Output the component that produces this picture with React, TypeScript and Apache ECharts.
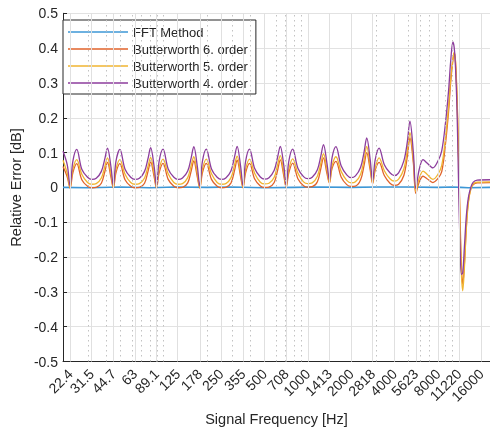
import React, { useEffect, useRef } from "react";
import * as echarts from "echarts";

// x-axis tick values (Hz) and their labels
const tickValues = [22.4, 31.5, 44.7, 63, 89.1, 125, 178, 250, 355, 500, 708, 1000, 1413, 2000, 2818, 4000, 5623, 8000, 11220, 16000];
const tickLabels = ["22.4", "31.5", "44.7", "63", "89.1", "125", "178", "250", "355", "500", "708", "1000", "1413", "2000", "2818", "4000", "5623", "8000", "11220", "16000"];
// minor (dotted) grid positions of the log axis
const minorGridHz = [30, 40, 50, 60, 70, 80, 90, 100, 200, 300, 400, 500, 600, 700, 800, 900, 1000, 2000, 3000, 4000, 5000, 6000, 7000, 8000, 9000, 10000];

const seriesNames = ["FFT Method", "Butterworth 6. order", "Butterworth 5. order", "Butterworth 4. order"];

// FFT method
const fftHz = [20, 30, 50, 80, 120, 200, 300, 500, 800, 1200, 2000, 3000, 5000, 8000, 10000, 11500, 13000, 18400];
const fftErr = [0, -0.001, 0.001, -0.001, 0.001, 0, 0.001, -0.001, 0, 0.001, 0, 0.001, 0.001, 0, 0.001, 0, -0.001, 0];

// shared frequency samples for the Butterworth curves
const bwHz = [
  20, 21.4,
  22.4, 23.4, 24.9, 27.0, 29.6, 31.7, 34.0, 36.9, 39.0, 40.7, 43.0,
  44.7, 46.6, 49.6, 53.9, 59.0, 63.2, 67.8, 73.6, 77.8, 81.1, 85.8,
  89.1, 92.9, 98.9, 107.4, 117.6, 126.0, 135.0, 146.8, 155.1, 161.7, 170.9,
  178, 185.6, 197.5, 214.6, 234.9, 251.7, 269.8, 293.2, 309.9, 323.1, 341.5,
  355, 370.1, 393.9, 428.1, 468.4, 502.0, 538.1, 584.8, 618.1, 644.3, 681.1,
  708, 738.1, 785.6, 853.7, 934.2, 1001, 1073, 1166, 1233, 1285, 1358,
  1413, 1473, 1568, 1704, 1864, 1998, 2142, 2327, 2460, 2565, 2711,
  2818, 2938, 3127, 3398, 3718, 3985, 4271, 4642, 4906, 5115, 5406,
  5623, 5924, 6310, 6724, 7386, 7992, 8507, 9058, 9500, 9805, 10168, 10394, 10612, 10866, 11122, 11390, 11660, 11900, 12224, 12616, 13014, 13532, 14086, 14990, 18400,
];

const bw6Err = [
  0.06, 0.03,
  -0.002, 0.042, 0.068, 0.022, 0.003, -0.001, 0.0, 0.012, 0.045, 0.072, 0.03,
  -0.002, 0.042, 0.068, 0.022, 0.003, -0.001, 0.0, 0.012, 0.046, 0.073, 0.03,
  -0.002, 0.042, 0.069, 0.023, 0.003, -0.001, 0.0, 0.013, 0.047, 0.076, 0.031,
  -0.002, 0.042, 0.069, 0.023, 0.003, -0.001, 0.0, 0.013, 0.048, 0.078, 0.032,
  -0.001, 0.042, 0.069, 0.024, 0.004, 0.0, 0.001, 0.014, 0.05, 0.079, 0.034,
  0.0, 0.042, 0.07, 0.025, 0.005, 0.001, 0.002, 0.016, 0.055, 0.085, 0.04,
  0.012, 0.054, 0.075, 0.03, 0.008, 0.003, 0.004, 0.022, 0.064, 0.1, 0.05,
  0.011, 0.05, 0.072, 0.034, 0.012, 0.006, 0.009, 0.034, 0.088, 0.142, 0.07,
  -0.017, 0.015, 0.032, 0.025, 0.014, 0.025, 0.045, 0.13, 0.22, 0.3, 0.365, 0.388, 0.36, 0.26, 0.1, -0.08, -0.23, -0.278, -0.22, -0.11, -0.04, -0.005, 0.008, 0.013, 0.014,
];

const bw5Err = [
  0.078, 0.04,
  0.0, 0.052, 0.08, 0.038, 0.014, 0.009, 0.011, 0.027, 0.06, 0.085, 0.04,
  0.0, 0.052, 0.08, 0.038, 0.014, 0.009, 0.011, 0.027, 0.061, 0.086, 0.04,
  0.0, 0.052, 0.081, 0.039, 0.014, 0.009, 0.011, 0.028, 0.063, 0.088, 0.041,
  0.0, 0.052, 0.081, 0.039, 0.014, 0.009, 0.011, 0.028, 0.064, 0.09, 0.042,
  0.001, 0.052, 0.081, 0.04, 0.015, 0.01, 0.012, 0.029, 0.066, 0.091, 0.044,
  0.002, 0.052, 0.082, 0.041, 0.016, 0.011, 0.013, 0.032, 0.07, 0.097, 0.05,
  0.015, 0.062, 0.088, 0.046, 0.02, 0.013, 0.016, 0.038, 0.08, 0.118, 0.06,
  0.014, 0.057, 0.085, 0.048, 0.025, 0.018, 0.024, 0.053, 0.106, 0.157, 0.08,
  -0.012, 0.025, 0.047, 0.038, 0.023, 0.037, 0.063, 0.147, 0.235, 0.31, 0.37, 0.387, 0.355, 0.25, 0.09, -0.1, -0.25, -0.297, -0.23, -0.115, -0.045, -0.005, 0.01, 0.015, 0.016,
];

const bw4Err = [
  0.104, 0.065,
  0.004, 0.075, 0.109, 0.052, 0.029, 0.023, 0.026, 0.046, 0.082, 0.113, 0.06,
  0.004, 0.075, 0.109, 0.052, 0.029, 0.023, 0.026, 0.046, 0.083, 0.114, 0.06,
  0.004, 0.075, 0.11, 0.053, 0.029, 0.023, 0.027, 0.047, 0.085, 0.117, 0.062,
  0.004, 0.075, 0.11, 0.053, 0.029, 0.023, 0.027, 0.048, 0.087, 0.118, 0.062,
  0.005, 0.075, 0.11, 0.054, 0.03, 0.024, 0.028, 0.049, 0.088, 0.118, 0.064,
  0.006, 0.075, 0.11, 0.055, 0.031, 0.025, 0.029, 0.051, 0.091, 0.123, 0.07,
  0.02, 0.085, 0.117, 0.062, 0.036, 0.028, 0.033, 0.058, 0.102, 0.142, 0.08,
  0.018, 0.08, 0.113, 0.065, 0.042, 0.034, 0.042, 0.076, 0.13, 0.19, 0.1,
  -0.003, 0.05, 0.08, 0.07, 0.056, 0.075, 0.105, 0.19, 0.28, 0.36, 0.418, 0.4, 0.34, 0.22, 0.02, -0.16, -0.25, -0.245, -0.17, -0.08, -0.03, 0.0, 0.015, 0.021, 0.022,
];

const colors = ["#3d97d6", "#e0622a", "#f0b530", "#8c3d9c"];
const FONT = "'Liberation Sans', Arial, Helvetica, sans-serif";
const TEXT = "#262626";

const pairs = (xs: number[], ys: number[]) => xs.map((x, i) => [x, ys[i]]);

export default function App() {
  const ref = useRef<HTMLDivElement>(null);
  useEffect(() => {
    if (!ref.current) return;
    const chart = echarts.init(ref.current, undefined, { renderer: "svg" });
    const labelFor = (v: number) => {
      let best = 0;
      let bd = Infinity;
      tickValues.forEach((t, i) => {
        const d = Math.abs(Math.log(t) - Math.log(v));
        if (d < bd) { bd = d; best = i; }
      });
      return tickLabels[best];
    };
    const lineSeries = (name: string, data: number[][], color: string, width: number, smooth: number) => ({
      name,
      type: "line",
      data,
      showSymbol: false,
      symbol: "none",
      smooth,
      z: 3,
      lineStyle: { color, width },
      itemStyle: { color },
      emphasis: { disabled: true },
    });
    chart.setOption({
      animation: false,
      textStyle: { fontFamily: FONT },
      grid: { left: 56, right: 0, top: 13.3, bottom: 68.3, containLabel: false },
      legend: {
        orient: "vertical",
        left: 63,
        top: 20,
        data: seriesNames,
        icon: "rect",
        itemWidth: 60,
        itemHeight: 1.5,
        itemGap: 3,
        padding: [5, 8, 4, 5],
        backgroundColor: "#ffffff",
        borderColor: TEXT,
        borderWidth: 1,
        borderRadius: 0,
        selectedMode: false,
        textStyle: { fontSize: 13, color: TEXT, fontFamily: FONT, lineHeight: 14 },
      },
      xAxis: {
        type: "log",
        logBase: 10,
        min: 20,
        max: 18400,
        name: "Signal Frequency [Hz]",
        nameLocation: "middle",
        nameGap: 48,
        nameTextStyle: { fontSize: 14.5, color: TEXT, fontFamily: FONT },
        axisLine: { show: true, onZero: false, lineStyle: { color: TEXT, width: 1 } },
        axisTick: { show: true, inside: true, length: 4, customValues: tickValues, lineStyle: { color: TEXT } },
        axisLabel: {
          customValues: tickValues,
          formatter: (v: number) => labelFor(v),
          rotate: 45,
          margin: 10,
          fontSize: 14,
          color: TEXT,
          fontFamily: FONT,
        },
        splitLine: { show: false },
        minorTick: { show: false },
        minorSplitLine: { show: false },
      },
      yAxis: {
        type: "value",
        min: -0.5,
        max: 0.5,
        interval: 0.1,
        name: "Relative Error [dB]",
        nameLocation: "middle",
        nameGap: 33,
        nameTextStyle: { fontSize: 14.5, color: TEXT, fontFamily: FONT },
        axisLine: { show: true, onZero: false, lineStyle: { color: TEXT, width: 1 } },
        axisTick: { show: true, inside: true, length: 4, lineStyle: { color: TEXT } },
        axisLabel: { fontSize: 14, color: TEXT, fontFamily: FONT, margin: 5 },
        splitLine: { show: true, lineStyle: { color: "#e2e2e2", width: 1 } },
      },
      series: [
        {
          name: "grid",
          type: "line",
          data: [],
          z: 1,
          silent: true,
          markLine: {
            silent: true,
            symbol: ["none", "none"],
            label: { show: false },
            emphasis: { disabled: true },
            animation: false,
            data: [
              ...minorGridHz.map((v) => ({ xAxis: v, lineStyle: { color: "#c2c2c2", width: 1, type: [1.5, 3.5] } })),
              ...tickValues.map((v) => ({ xAxis: v, lineStyle: { color: "#e0e0e0", width: 1, type: "solid" } })),
            ],
          },
        },
        lineSeries(seriesNames[0], pairs(fftHz, fftErr), colors[0], 1.6, 0),
        lineSeries(seriesNames[1], pairs(bwHz, bw6Err), colors[1], 1.3, 0.35),
        lineSeries(seriesNames[2], pairs(bwHz, bw5Err), colors[2], 1.3, 0.35),
        lineSeries(seriesNames[3], pairs(bwHz, bw4Err), colors[3], 1.3, 0.35),
      ],
    });
    return () => chart.dispose();
  }, []);
  return <div ref={ref} style={{ position: "fixed", left: 0, top: 0, width: 490, height: 431 }} />;
}
